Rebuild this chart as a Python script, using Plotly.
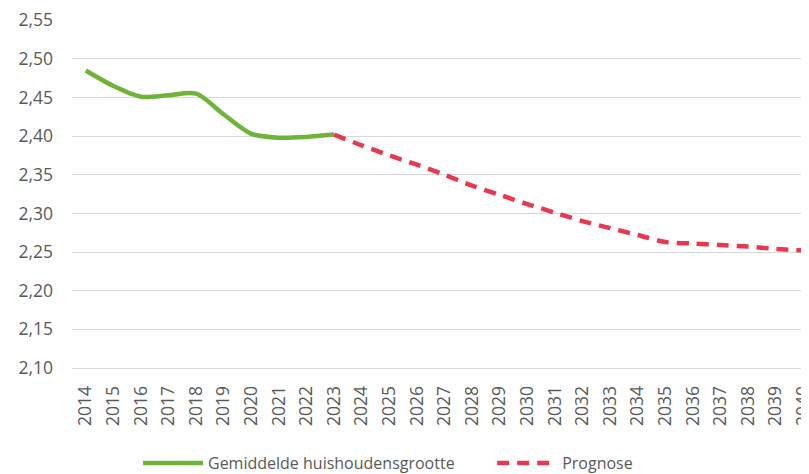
import plotly.graph_objects as go

years = [str(y) for y in range(2014, 2041)]
hist_years = years[:10]
hist_values = [2.485, 2.465, 2.451, 2.453, 2.455, 2.428, 2.403, 2.398, 2.399, 2.402]
prog_years = years[9:]
prog_values = [2.402, 2.388, 2.375, 2.363, 2.350, 2.336, 2.324, 2.312, 2.301,
               2.290, 2.281, 2.272, 2.263, 2.261, 2.259, 2.257, 2.254, 2.252]

y_ticks = [2.10, 2.15, 2.20, 2.25, 2.30, 2.35, 2.40, 2.45, 2.50, 2.55]

font_family = "Open Sans, Liberation Sans, sans-serif"
grey_text = "#595959"

fig = go.Figure()
fig.add_trace(go.Scatter(
    x=hist_years, y=hist_values, mode="lines", name="Gemiddelde huishoudensgrootte",
    line=dict(color="#70b33a", width=4.5, shape="spline", smoothing=0.8),
    legend="legend",
))
fig.add_trace(go.Scatter(
    x=prog_years, y=prog_values, mode="lines", name="Prognose",
    line=dict(color="#e8384f", width=4.5, dash="12px,8px", shape="spline", smoothing=0.8),
    legend="legend2",
))

legend_common = dict(orientation="h", y=-0.273, yanchor="middle", xanchor="left",
                     font=dict(size=16, color=grey_text), itemwidth=60,
                     bgcolor="rgba(0,0,0,0)")

fig.update_layout(
    width=809, height=474,
    margin=dict(l=64, r=0, t=12, b=114),
    paper_bgcolor="white", plot_bgcolor="white",
    separators=",.",
    font=dict(family=font_family, size=17, color=grey_text),
    showlegend=True,
    legend=dict(x=0.0886, **legend_common),
    legend2=dict(x=0.564, **legend_common),
    xaxis=dict(type="category", categoryorder="array", categoryarray=years,
               range=[-0.5, 26.5], tickangle=-90, showgrid=False,
               showline=True, linecolor="#d9d9d9", linewidth=1,
               ticks="", tickfont=dict(size=17.5, color=grey_text),
               ticklabelstandoff=10, automargin=False, fixedrange=True),
    yaxis=dict(range=[2.0999, 2.5503], tickvals=y_ticks, tickformat=".2f",
               showgrid=True, gridcolor="#d9d9d9", gridwidth=1,
               zeroline=False, showline=False, ticks="",
               tickfont=dict(size=17.5, color=grey_text),
               ticklabelstandoff=18, ticklabeloverflow="allow",
               automargin=False, fixedrange=True),
)

fig.write_html("out.html")
